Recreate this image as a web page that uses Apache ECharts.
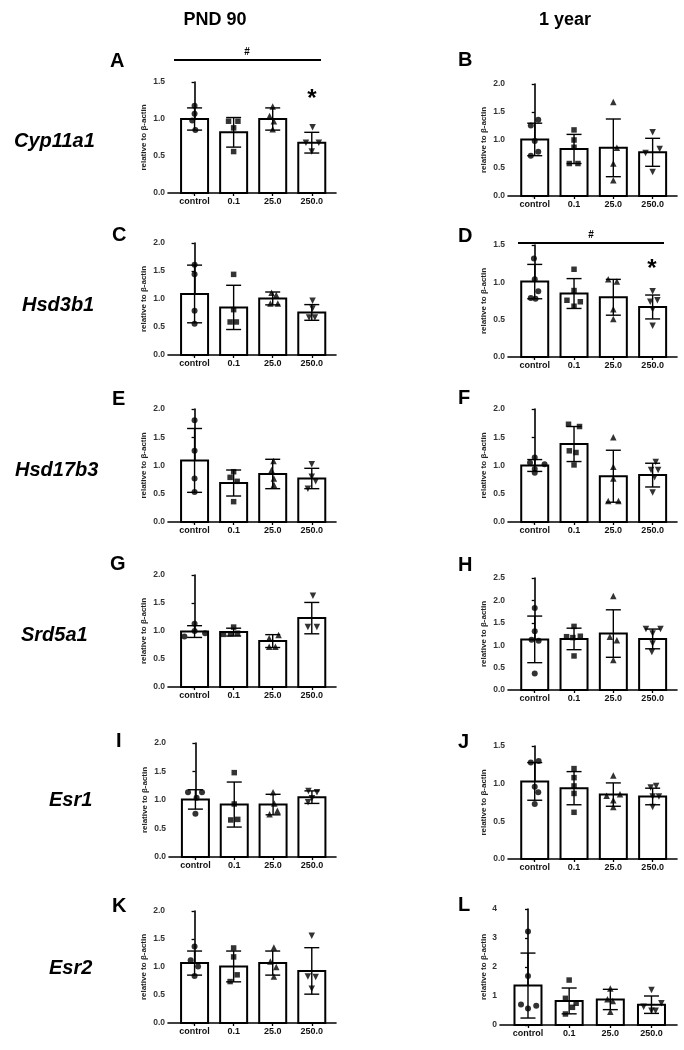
<!DOCTYPE html>
<html>
<head>
<meta charset="utf-8">
<script src="https://cdn.jsdelivr.net/npm/echarts@6/dist/echarts.min.js"></script>
<style>
  html, body { margin: 0; padding: 0; background: #fff; }
  #chart { width: 684px; height: 1050px; }
</style>
</head>
<body>
<div id="chart"></div>
<script>
const groups = ["control", "0.1", "25.0", "250.0"];
const genes = ["Cyp11a1", "Hsd3b1", "Hsd17b3", "Srd5a1", "Esr1", "Esr2"];
const ages = ["PND 90", "1 year"];
const yAxisName = "relative to β-actin";

// mean / SD per group, and individual animals as [jitter, value]
const meanA = [1.00, 0.82, 1.00, 0.68];
const sdA = [0.15, 0.20, 0.15, 0.14];
const ptsA = [
  [[0, 1.18], [0, 1.07], [-0.06, 0.98], [0.02, 0.85]],
  [[-0.13, 0.97], [0.11, 0.97], [0, 0.88], [0, 0.56]],
  [[0, 1.17], [-0.08, 1.04], [0.03, 0.97], [0, 0.86]],
  [[0.02, 0.89], [-0.15, 0.68], [0.18, 0.68], [0, 0.56]]
];

const meanB = [1.01, 0.84, 0.86, 0.78];
const sdB = [0.29, 0.26, 0.515, 0.25];
const ptsB = [
  [[0.09, 1.36], [-0.1, 1.26], [0, 0.98], [0.09, 0.79], [-0.1, 0.72]],
  [[0, 1.18], [0, 1.0], [0, 0.87], [-0.12, 0.58], [0.1, 0.58]],
  [[0, 1.68], [0.09, 0.86], [0, 0.58], [0, 0.28]],
  [[0, 1.14], [-0.18, 0.77], [0.18, 0.84], [0, 0.43]]
];

const meanC = [1.09, 0.85, 1.01, 0.76];
const sdC = [0.515, 0.395, 0.115, 0.14];
const ptsC = [
  [[0, 1.61], [0, 1.44], [0, 0.79], [0, 0.56]],
  [[0, 1.44], [0, 0.81], [-0.09, 0.59], [0.07, 0.59]],
  [[-0.03, 1.11], [0.09, 1.07], [-0.06, 0.92], [0.13, 0.92]],
  [[0.02, 0.97], [0.02, 0.83], [-0.07, 0.67], [0.08, 0.67]]
];

const meanD = [1.01, 0.85, 0.80, 0.67];
const sdD = [0.23, 0.20, 0.24, 0.16];
const ptsD = [
  [[-0.02, 1.32], [0, 1.04], [0.09, 0.88], [-0.1, 0.79], [0.02, 0.78]],
  [[0, 1.175], [0, 0.89], [-0.18, 0.76], [0.16, 0.74], [0, 0.68]],
  [[-0.13, 1.04], [0.09, 1.01], [0, 0.64], [0, 0.51]],
  [[0, 0.88], [-0.06, 0.74], [0.12, 0.76], [0, 0.64], [0, 0.42]]
];

const meanE = [1.09, 0.69, 0.85, 0.77];
const sdE = [0.565, 0.23, 0.26, 0.18];
const ptsE = [
  [[0, 1.80], [0, 1.26], [0, 0.77], [0, 0.53]],
  [[0, 0.89], [-0.09, 0.79], [0.09, 0.72], [0, 0.36]],
  [[0.02, 1.08], [-0.03, 0.92], [0.03, 0.77], [0.03, 0.66]],
  [[0, 1.02], [0, 0.80], [0.1, 0.72], [-0.1, 0.59]]
];

const meanF = [1.00, 1.38, 0.81, 0.83];
const sdF = [0.105, 0.31, 0.46, 0.21];
const ptsF = [
  [[0, 1.14], [-0.12, 1.05], [0.25, 1.02], [0, 0.94], [0, 0.87]],
  [[-0.14, 1.73], [0.14, 1.69], [-0.12, 1.26], [0.05, 1.23], [0, 1.01]],
  [[0, 1.50], [0, 0.98], [0, 0.77], [-0.13, 0.37], [0.13, 0.37]],
  [[0.08, 1.06], [-0.04, 0.92], [0.14, 0.92], [0.05, 0.79], [0, 0.52]]
];

const meanG = [0.99, 0.98, 0.82, 1.23];
const sdG = [0.105, 0.07, 0.115, 0.28];
const ptsG = [
  [[0, 1.13], [0, 1.00], [0.27, 0.96], [-0.26, 0.90]],
  [[0, 1.07], [0.1, 0.96], [-0.26, 0.94], [-0.08, 0.95]],
  [[0.15, 0.93], [-0.09, 0.87], [-0.09, 0.72], [0.07, 0.72]],
  [[0.03, 1.63], [-0.1, 1.07], [0.13, 1.07]]
];

const meanH = [1.13, 1.14, 1.26, 1.14];
const sdH = [0.52, 0.24, 0.53, 0.22];
const ptsH = [
  [[0, 1.83], [0, 1.31], [-0.08, 1.12], [0.1, 1.10], [0, 0.37]],
  [[0, 1.42], [-0.19, 1.19], [-0.03, 1.17], [0.16, 1.20], [0, 0.76]],
  [[0, 2.10], [-0.09, 1.19], [0.09, 1.11], [0, 0.67]],
  [[-0.17, 1.36], [0.2, 1.36], [0, 1.26], [0, 1.04], [-0.02, 0.85]]
];

const meanI = [1.01, 0.92, 0.92, 1.05];
const sdI = [0.17, 0.395, 0.18, 0.11];
const ptsI = [
  [[-0.19, 1.135], [0.17, 1.135], [0.03, 1.04], [0, 0.76]],
  [[0, 1.48], [0, 0.93], [-0.09, 0.65], [0.09, 0.66]],
  [[0, 1.135], [0.03, 0.94], [-0.09, 0.75], [0.11, 0.81]],
  [[-0.09, 1.16], [0.13, 1.135], [0, 1.03], [-0.1, 0.96]]
];

const meanJ = [1.03, 0.94, 0.855, 0.83];
const sdJ = [0.25, 0.22, 0.155, 0.11];
const ptsJ = [
  [[-0.1, 1.28], [0.1, 1.30], [0, 0.96], [0.09, 0.885], [0, 0.73]],
  [[0, 1.20], [0, 1.08], [0, 0.97], [0, 0.87], [0, 0.62]],
  [[0, 1.11], [-0.17, 0.84], [0.17, 0.86], [0, 0.78], [0, 0.69]],
  [[0.09, 0.97], [-0.05, 0.95], [0, 0.83], [0.16, 0.83], [0, 0.69]]
];

const meanK = [1.07, 1.01, 1.07, 0.93];
const sdK = [0.215, 0.275, 0.215, 0.415];
const ptsK = [
  [[0, 1.365], [-0.1, 1.12], [0.09, 1.01], [0, 0.84]],
  [[0, 1.34], [0, 1.18], [0.09, 0.86], [-0.09, 0.74]],
  [[0.03, 1.35], [-0.06, 1.10], [0.09, 1.0], [0.03, 0.83]],
  [[0, 1.56], [-0.1, 0.83], [0.1, 0.82], [0, 0.61]]
];

const meanL = [1.36, 0.83, 0.88, 0.70];
const sdL = [1.12, 0.445, 0.35, 0.30];
const ptsL = [
  [[0, 3.22], [0, 1.69], [-0.17, 0.71], [0, 0.57], [0.2, 0.66]],
  [[0, 1.55], [-0.09, 0.92], [0.17, 0.75], [0.08, 0.61], [-0.09, 0.38]],
  [[0, 1.26], [-0.07, 0.885], [0.06, 0.83], [0, 0.46]],
  [[0, 1.21], [0.24, 0.75], [-0.19, 0.63], [0, 0.49], [0.1, 0.49]]
];

const FONT = "'Liberation Sans', Arial, sans-serif";
const symbols = ["circle", "rect", "triangle", "triangle"];
const symbolSizes = [6, 5.5, 6.5, 6.5];
const symbolRotates = [0, 0, 0, 180];

// layout of the 12 small panels
const panels = [
  { id: "A", mean: meanA, sd: sdA, pts: ptsA, yMax: 1.5, step: 0.5, left: 168, top: 82, width: 168, height: 111, lx: 110, ly: 61 },
  { id: "B", mean: meanB, sd: sdB, pts: ptsB, yMax: 2.0, step: 0.5, left: 508, top: 84, width: 169, height: 112, lx: 458, ly: 60 },
  { id: "C", mean: meanC, sd: sdC, pts: ptsC, yMax: 2.0, step: 0.5, left: 168, top: 243, width: 168, height: 112, lx: 112, ly: 235 },
  { id: "D", mean: meanD, sd: sdD, pts: ptsD, yMax: 1.5, step: 0.5, left: 508, top: 245, width: 169, height: 112, lx: 458, ly: 236 },
  { id: "E", mean: meanE, sd: sdE, pts: ptsE, yMax: 2.0, step: 0.5, left: 168, top: 409, width: 168, height: 113, lx: 112, ly: 399 },
  { id: "F", mean: meanF, sd: sdF, pts: ptsF, yMax: 2.0, step: 0.5, left: 508, top: 409, width: 169, height: 113, lx: 458, ly: 398 },
  { id: "G", mean: meanG, sd: sdG, pts: ptsG, yMax: 2.0, step: 0.5, left: 168, top: 575, width: 168, height: 112, lx: 110, ly: 564 },
  { id: "H", mean: meanH, sd: sdH, pts: ptsH, yMax: 2.5, step: 0.5, left: 508, top: 578, width: 169, height: 112, lx: 458, ly: 565 },
  { id: "I", mean: meanI, sd: sdI, pts: ptsI, yMax: 2.0, step: 0.5, left: 169, top: 743, width: 167, height: 114, lx: 116, ly: 741 },
  { id: "J", mean: meanJ, sd: sdJ, pts: ptsJ, yMax: 1.5, step: 0.5, left: 508, top: 746, width: 169, height: 113, lx: 458, ly: 742 },
  { id: "K", mean: meanK, sd: sdK, pts: ptsK, yMax: 2.0, step: 0.5, left: 168, top: 911, width: 168, height: 112, lx: 112, ly: 906 },
  { id: "L", mean: meanL, sd: sdL, pts: ptsL, yMax: 4, step: 1, left: 500, top: 909, width: 177, height: 116, lx: 458, ly: 905, nameGap: 12 }
];

const chart = echarts.init(document.getElementById("chart"));

const grid = [];
const xAxis = [];
const yAxis = [];
const series = [];

panels.forEach((p, i) => {
  grid.push({ left: p.left, top: p.top, width: p.width, height: p.height });

  xAxis.push({
    type: "value",
    gridIndex: i,
    min: -0.68,
    max: 3.62,
    splitLine: { show: false },
    axisLine: { show: true, onZero: false, lineStyle: { color: "#000", width: 1.6 } },
    axisTick: { show: true, customValues: [0, 1, 2, 3], length: 3, lineStyle: { color: "#000", width: 1.3 } },
    axisLabel: {
      customValues: [0, 1, 2, 3],
      formatter: (v) => groups[Math.round(v)],
      fontFamily: FONT,
      fontSize: 9,
      fontWeight: "bold",
      color: "#111",
      margin: 4
    }
  });

  yAxis.push({
    type: "value",
    gridIndex: i,
    min: 0,
    max: p.yMax,
    interval: p.step,
    name: yAxisName,
    nameLocation: "middle",
    nameRotate: 90,
    nameGap: p.nameGap || 20,
    nameTextStyle: { fontFamily: FONT, fontSize: 8, fontWeight: "bold", color: "#222" },
    splitLine: { show: false },
    axisLine: { show: true, lineStyle: { color: "#000", width: 1.6 } },
    axisTick: { show: true, length: 3, lineStyle: { color: "#000", width: 1.3 } },
    axisLabel: {
      formatter: (v) => (p.step < 1 ? v.toFixed(1) : String(v)),
      fontFamily: FONT,
      fontSize: 8.5,
      fontWeight: "bold",
      color: "#333",
      margin: 3
    }
  });

  // bars with mean ± SD error bars
  series.push({
    type: "custom",
    xAxisIndex: i,
    yAxisIndex: i,
    clip: false,
    data: p.mean.map((m, k) => [k, m, p.sd[k]]),
    encode: { x: 0, y: 1 },
    renderItem: (params, api) => {
      const x = api.value(0);
      const m = api.value(1);
      const s = api.value(2);
      const top = api.coord([x, m]);
      const base = api.coord([x, 0]);
      const hi = api.coord([x, m + s]);
      const lo = api.coord([x, m - s]);
      const barW = 27;
      const capW = 15;
      const lineStyle = { stroke: "#000", lineWidth: 1.4 };
      return {
        type: "group",
        children: [
          {
            type: "rect",
            shape: { x: top[0] - barW / 2, y: top[1], width: barW, height: base[1] - top[1] },
            style: { fill: "#fff", stroke: "#000", lineWidth: 2 }
          },
          { type: "line", shape: { x1: hi[0], y1: hi[1], x2: lo[0], y2: lo[1] }, style: lineStyle },
          { type: "line", shape: { x1: hi[0] - capW / 2, y1: hi[1], x2: hi[0] + capW / 2, y2: hi[1] }, style: lineStyle },
          { type: "line", shape: { x1: lo[0] - capW / 2, y1: lo[1], x2: lo[0] + capW / 2, y2: lo[1] }, style: lineStyle }
        ]
      };
    },
    z: 2
  });

  // individual animals
  p.pts.forEach((list, k) => {
    series.push({
      type: "scatter",
      xAxisIndex: i,
      yAxisIndex: i,
      symbol: symbols[k],
      symbolSize: symbolSizes[k],
      symbolRotate: symbolRotates[k],
      itemStyle: { color: "#000" },
      data: list.map((pt) => [k + pt[0], pt[1]]),
      z: 3
    });
  });
});

const graphic = [];
const textItem = (text, x, y, font, align) => ({
  type: "text",
  x: x,
  y: y,
  style: { text: text, font: font, fill: "#000", textAlign: align || "center", textVerticalAlign: "middle" }
});

// column headers
graphic.push(textItem(ages[0], 215, 20, "bold 18px " + FONT));
graphic.push(textItem(ages[1], 565, 20, "bold 18px " + FONT));

// gene names
const geneX = [14, 22, 15, 21, 49, 49];
const geneY = [141, 305, 470, 635, 800, 968];
genes.forEach((g, r) => {
  graphic.push(textItem(g, geneX[r], geneY[r], "italic bold 20px " + FONT, "left"));
});

// panel letters
panels.forEach((p) => {
  graphic.push(textItem(p.id, p.lx, p.ly, "bold 20px " + FONT, "left"));
});

// significance marks
graphic.push({ type: "line", shape: { x1: 174, y1: 60, x2: 321, y2: 60 }, style: { stroke: "#000", lineWidth: 2 } });
graphic.push(textItem("#", 247, 52, "bold 10px " + FONT));
graphic.push(textItem("*", 312, 99, "bold 24px " + FONT));
graphic.push({ type: "line", shape: { x1: 518, y1: 243, x2: 664, y2: 243 }, style: { stroke: "#000", lineWidth: 2 } });
graphic.push(textItem("#", 591, 235, "bold 10px " + FONT));
graphic.push(textItem("*", 652, 269, "bold 24px " + FONT));

chart.setOption({
  animation: false,
  backgroundColor: "#fff",
  grid: grid,
  xAxis: xAxis,
  yAxis: yAxis,
  series: series,
  graphic: graphic
});
</script>
</body>
</html>
